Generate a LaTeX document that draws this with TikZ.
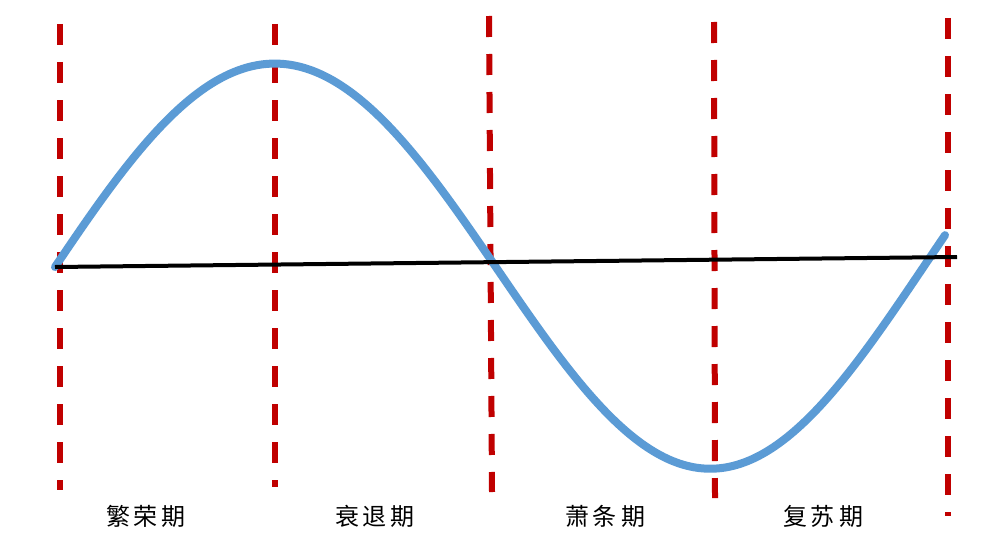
\documentclass[tikz,border=0pt]{standalone}
\usepackage{fontspec}
\newfontfamily\cjk{Noto Sans CJK SC}
\definecolor{phasered}{HTML}{C00000}
\definecolor{waveblue}{HTML}{5B9BD5}
\begin{document}
\begin{tikzpicture}[x=1pt,y=-1pt,
  reddash/.style={draw=phasered,line width=6pt,dash pattern=on 21pt off 17pt},
  axisline/.style={draw=black,line width=4pt},
  wave/.style={draw=waveblue,line width=8pt,line cap=round,line join=round},
  phaselabel/.style={font=\cjk\fontsize{24}{28}\selectfont,inner sep=0pt,anchor=center}]
\useasboundingbox (0,0) rectangle (995,551);
\fill[white] (0,0) rectangle (995,551);
% dashed phase boundaries
\coordinate (d1t) at (60,24);  \coordinate (d1b) at (60,490);
\coordinate (d2t) at (275,24); \coordinate (d2b) at (275,487);
\coordinate (d3t) at (489,16); \coordinate (d3b) at (492,492);
\coordinate (d4t) at (714,22); \coordinate (d4b) at (715,498);
\coordinate (d5t) at (948,18); \coordinate (d5b) at (948,516);
\draw[reddash] (d1t) -- (d1b);
\draw[reddash] (d2t) -- (d2b);
\draw[reddash] (d3t) -- (d3b);
\draw[reddash] (d4t) -- (d4b);
\draw[reddash] (d5t) -- (d5b);
% wave
\draw[wave] plot[domain=55:945,samples=200,smooth]
  (\x,{267-(\x-55)/902*10-(205-4*sin((\x-55)/875*360))*sin((\x-55)/875*360)});
% axis
\coordinate (a1) at (55,267);
\coordinate (a2) at (957,257);
\draw[axisline] (a1) -- (a2);
% labels
\node[phaselabel] (l1) at (146,516) {繁\,荣\,期};
\node[phaselabel] (l2) at (375,516) {衰\,退\,期};
\node[phaselabel] (l3) at (605,516) {萧\,条\,期};
\node[phaselabel] (l4) at (823,516) {复\,苏\,期};
\end{tikzpicture}
\end{document}
